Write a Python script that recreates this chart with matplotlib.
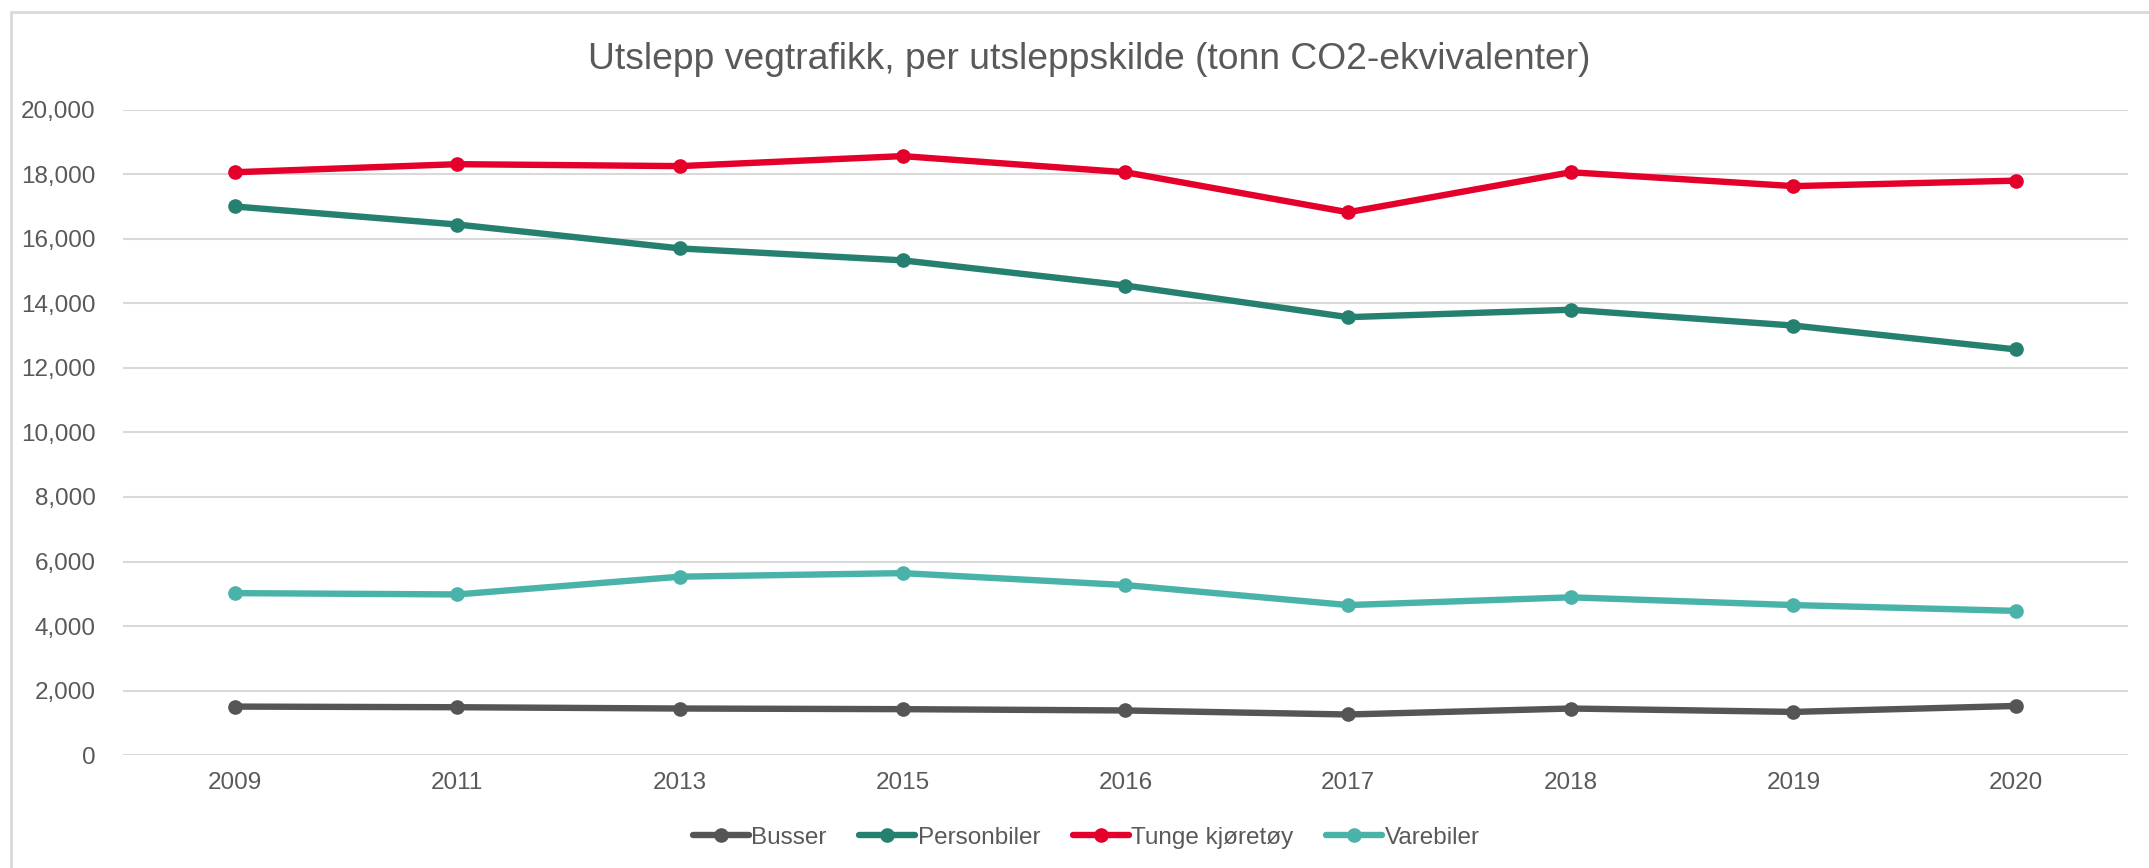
import matplotlib
matplotlib.use("Agg")
import matplotlib.pyplot as plt
from matplotlib.patches import Rectangle
from matplotlib.ticker import FuncFormatter

# Data
years = ["2009", "2011", "2013", "2015", "2016", "2017", "2018", "2019", "2020"]
busser = [1505, 1485, 1445, 1425, 1385, 1260, 1445, 1340, 1525]
personbiler = [17000, 16440, 15700, 15330, 14550, 13570, 13800, 13310, 12570]
tunge = [18060, 18310, 18250, 18560, 18060, 16820, 18060, 17630, 17800]
varebiler = [5020, 4980, 5530, 5640, 5270, 4650, 4890, 4650, 4470]

series_names = ["Busser", "Personbiler", "Tunge kjøretøy", "Varebiler"]
colors = ["#555555", "#25806F", "#E4002B", "#4AB3A9"]
text_col = "#595959"

plt.rcParams['font.family'] = ['Liberation Sans', 'DejaVu Sans']

fig = plt.figure(figsize=(21.49, 8.68), dpi=100)
ax = fig.add_axes([0.0574, 0.130, 0.9326, 0.7437])

# chart area border
fig.patches.append(Rectangle((11 / 2149, -0.05), 1.1, 1 - 12 / 868 + 0.05,
                             transform=fig.transFigure, fill=False,
                             edgecolor="#D9D9D9", linewidth=2))

x = range(len(years))
for vals, name, c in zip([busser, personbiler, tunge, varebiler], series_names, colors):
    ax.plot(x, vals, color=c, linewidth=4.6, marker='o', markersize=9.5,
            label=name, solid_capstyle='round')

ax.set_xlim(-0.5, len(years) - 0.5)
ax.set_ylim(0, 20000)
ax.set_yticks(range(0, 20001, 2000))
ax.yaxis.set_major_formatter(FuncFormatter(lambda v, p: f"{int(v):,}"))
ax.set_xticks(list(x))
ax.set_xticklabels(years)
ax.grid(axis='y', color="#D9D9D9", linewidth=1.5)
ax.set_axisbelow(True)
for s in ax.spines.values():
    s.set_visible(False)
ax.tick_params(length=0, labelsize=17.5, colors=text_col, pad=12)
ax.tick_params(axis='y', pad=20)

fig.text(0.507, 0.932, "Utslepp vegtrafikk, per utsleppskilde (tonn CO2-ekvivalenter)",
         ha='center', va='center', fontsize=26.8, color=text_col)

leg = fig.legend(loc='center', bbox_to_anchor=(0.5055, 0.035), ncol=4, frameon=False,
                 fontsize=17.5, handlelength=2.3, handletextpad=0.1, columnspacing=1.35)
for t in leg.get_texts():
    t.set_color(text_col)

fig.savefig("out.png", dpi=100)
